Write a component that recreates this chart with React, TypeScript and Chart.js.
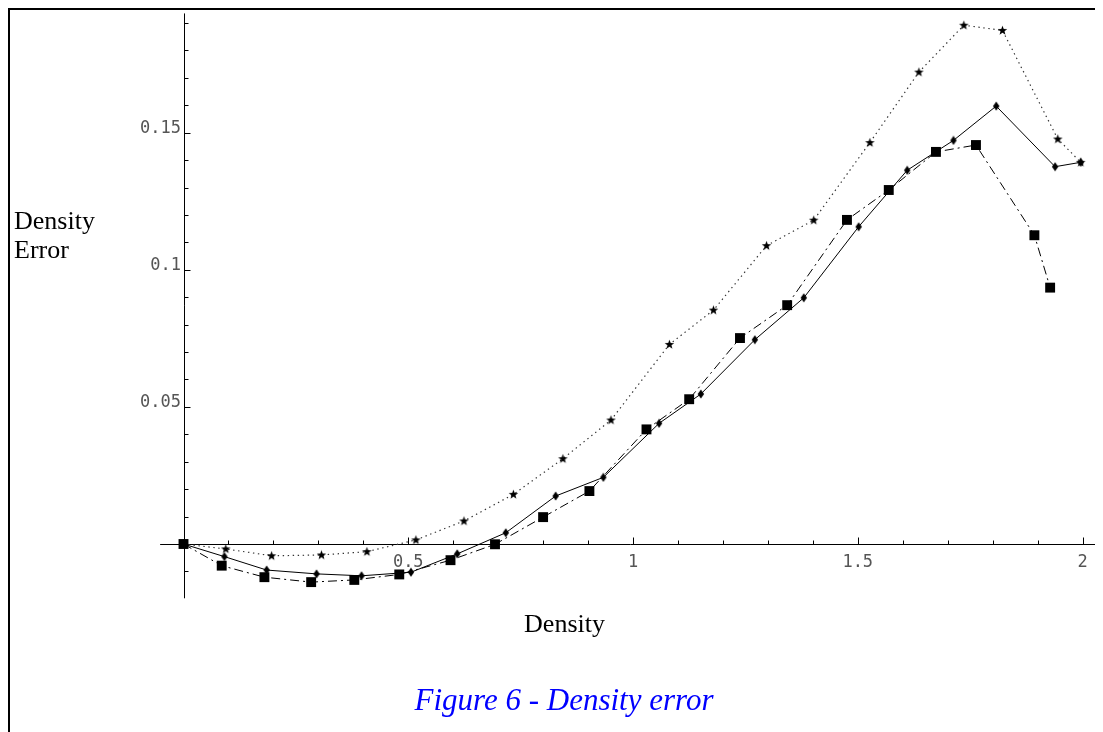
import React, { useEffect, useRef } from 'react';
import { Chart, registerables } from 'chart.js';

Chart.register(...registerables);

// Series 1: stars, dotted line
const starX = [0, 0.094, 0.196, 0.307, 0.408, 0.517, 0.624, 0.734, 0.844, 0.951, 1.081, 1.179, 1.297, 1.402, 1.527, 1.636, 1.736, 1.822, 1.945, 1.996];
const starY = [0, -0.0018, -0.0043, -0.004, -0.0028, 0.0015, 0.0084, 0.0181, 0.0311, 0.0452, 0.0728, 0.0853, 0.1088, 0.1181, 0.1464, 0.1721, 0.1892, 0.1873, 0.1477, 0.1392];

// Series 2: diamonds, solid line
const diamondX = [0, 0.091, 0.185, 0.296, 0.396, 0.506, 0.609, 0.717, 0.828, 0.934, 1.058, 1.151, 1.271, 1.38, 1.502, 1.61, 1.713, 1.808, 1.939, 1.996];
const diamondY = [0, -0.0046, -0.0095, -0.0109, -0.0116, -0.0103, -0.0036, 0.0041, 0.0175, 0.0243, 0.044, 0.0547, 0.0745, 0.0898, 0.1157, 0.1363, 0.1472, 0.1597, 0.1376, 0.1392];

// Series 3: squares, dash-dot line
const squareX = [0, 0.085, 0.18, 0.284, 0.38, 0.48, 0.594, 0.693, 0.8, 0.903, 1.03, 1.125, 1.238, 1.343, 1.476, 1.569, 1.674, 1.763, 1.893, 1.928];
const squareY = [0, -0.0079, -0.0121, -0.0139, -0.0131, -0.0111, -0.0059, -0.0001, 0.0098, 0.0193, 0.0418, 0.0528, 0.0751, 0.0871, 0.1182, 0.1291, 0.143, 0.1455, 0.1126, 0.0935];

const xTickValues = [0.5, 1, 1.5, 2];
const xTickLabels = ['0.5', '1', '1.5', '2'];
const yTickValues = [0.05, 0.1, 0.15];
const yTickLabels = ['0.05', '0.1', '0.15'];

const xAxisTitle = 'Density';
const yAxisTitle = ['Density', 'Error'];
const caption = 'Figure 6 - Density error';

const toPoints = (xs: number[], ys: number[]) => xs.map((x, i) => ({ x, y: ys[i] }));

function makeStar(): HTMLCanvasElement {
  const c = document.createElement('canvas');
  c.width = 11;
  c.height = 11;
  const g = c.getContext('2d')!;
  g.fillStyle = '#000';
  g.beginPath();
  for (let i = 0; i < 10; i++) {
    const r = i % 2 === 0 ? 5 : 2.1;
    const a = -Math.PI / 2 + (i * Math.PI) / 5;
    const px = 5.5 + r * Math.cos(a);
    const py = 5.7 + r * Math.sin(a);
    if (i === 0) g.moveTo(px, py);
    else g.lineTo(px, py);
  }
  g.closePath();
  g.fill();
  return c;
}

function makeDiamond(): HTMLCanvasElement {
  const c = document.createElement('canvas');
  c.width = 8;
  c.height = 10;
  const g = c.getContext('2d')!;
  g.fillStyle = '#000';
  g.beginPath();
  g.moveTo(4, 0.5);
  g.lineTo(7.2, 5);
  g.lineTo(4, 9.5);
  g.lineTo(0.8, 5);
  g.closePath();
  g.fill();
  return c;
}

const axesPlugin = {
  id: 'mathAxes',
  beforeDatasetsDraw(chart: any) {
    const ctx = chart.ctx as CanvasRenderingContext2D;
    const xs = chart.scales.x;
    const ys = chart.scales.y;
    const x0 = Math.round(xs.getPixelForValue(0)) + 0.5;
    const y0 = Math.round(ys.getPixelForValue(0)) + 0.5;
    ctx.save();
    ctx.strokeStyle = '#000';
    ctx.lineWidth = 1;
    ctx.beginPath();
    ctx.moveTo(xs.getPixelForValue(-0.052), y0);
    ctx.lineTo(xs.getPixelForValue(2.04), y0);
    ctx.moveTo(x0, ys.getPixelForValue(0.1935));
    ctx.lineTo(x0, ys.getPixelForValue(-0.0198));
    for (let i = 1; i <= 20; i++) {
      const px = Math.round(xs.getPixelForValue(i / 10)) + 0.5;
      const major = i % 5 === 0;
      ctx.moveTo(px, y0);
      ctx.lineTo(px, y0 - (major ? 7 : 4));
    }
    for (let i = -1; i <= 19; i++) {
      if (i === 0) continue;
      const py = Math.round(ys.getPixelForValue(i / 100)) + 0.5;
      const major = i % 5 === 0;
      ctx.moveTo(x0, py);
      ctx.lineTo(x0 + (major ? 6 : 4), py);
    }
    ctx.stroke();

    ctx.fillStyle = '#555';
    ctx.font = "17px 'DejaVu Sans Mono'";
    ctx.textBaseline = 'alphabetic';
    ctx.textAlign = 'center';
    xTickValues.forEach((v, i) => {
      ctx.fillText(xTickLabels[i], xs.getPixelForValue(v), y0 + 22);
    });
    ctx.textAlign = 'right';
    yTickValues.forEach((v, i) => {
      ctx.fillText(yTickLabels[i], x0 - 3.5, ys.getPixelForValue(v));
    });

    ctx.fillStyle = '#000';
    ctx.font = "26px 'Liberation Serif'";
    ctx.textAlign = 'center';
    ctx.fillText(xAxisTitle, 554.5, 622);
    ctx.textAlign = 'left';
    ctx.fillText(yAxisTitle[0], 4, 219);
    ctx.fillText(yAxisTitle[1], 4, 248);

    ctx.fillStyle = '#0000ff';
    ctx.font = "italic 31px 'Liberation Serif'";
    ctx.textAlign = 'center';
    ctx.fillText(caption, 554, 700);
    ctx.restore();
  },
};

export default function App() {
  const ref = useRef<HTMLCanvasElement>(null);

  useEffect(() => {
    document.documentElement.style.overflow = 'hidden';
    document.body.style.overflow = 'hidden';
    const canvas = ref.current!;
    const star = makeStar();
    const diamond = makeDiamond();
    const chart = new Chart(canvas, {
      type: 'scatter',
      data: {
        datasets: [
          {
            label: 'stars',
            data: toPoints(starX, starY),
            showLine: true,
            borderColor: '#333',
            borderWidth: 1.2,
            borderDash: [1.4, 3.6],
            pointStyle: star,
            pointRadius: 5,
            pointBackgroundColor: '#000',
          },
          {
            label: 'diamonds',
            data: toPoints(diamondX, diamondY),
            showLine: true,
            borderColor: '#000',
            borderWidth: 1,
            pointStyle: diamond,
            pointRadius: 4,
            pointBackgroundColor: '#000',
          },
          {
            label: 'squares',
            data: toPoints(squareX, squareY),
            showLine: true,
            borderColor: '#000',
            borderWidth: 1,
            borderDash: [9, 4, 2, 4],
            pointStyle: 'rect',
            pointRadius: 7,
            pointBorderWidth: 0,
            pointBackgroundColor: '#000',
            pointBorderColor: '#000',
          },
        ],
      },
      options: {
        animation: false,
        responsive: false,
        devicePixelRatio: 1,
        layout: { padding: 0, autoPadding: false },
        plugins: { legend: { display: false }, tooltip: { enabled: false }, title: { display: false } },
        scales: {
          x: { type: 'linear', display: false, min: (10 - 183.5) / 449.5, max: (1103 - 183.5) / 449.5 },
          y: { type: 'linear', display: false, min: (544 - 732) / 2742, max: (544 - 10) / 2742 },
        },
      },
      plugins: [axesPlugin],
    });
    return () => chart.destroy();
  }, []);

  return (
    <div
      style={{
        position: 'relative',
        width: 1095,
        height: 724,
        borderTop: '2px solid #000',
        borderLeft: '2px solid #000',
        boxSizing: 'border-box',
        background: '#fff',
      }}
    >
      <canvas
        ref={ref}
        width={1093}
        height={722}
        style={{ position: 'absolute', left: 0, top: 0, width: 1093, height: 722 }}
      />
    </div>
  );
}
